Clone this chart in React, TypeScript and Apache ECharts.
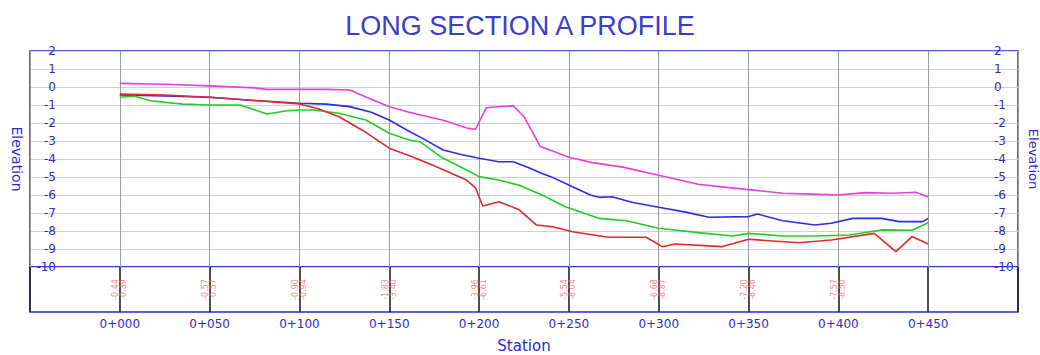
import React, { useEffect, useRef } from "react";
import * as echarts from "echarts";

const magenta: [number, number][] = [
  [0, 0.2], [25, 0.15], [50, 0.06], [75, -0.05], [82, -0.13], [100, -0.13], [115, -0.13], [128, -0.17],
  [137, -0.55], [150, -1.1], [161, -1.4], [180, -1.85], [194, -2.3], [198, -2.35], [204, -1.15],
  [212, -1.08], [219, -1.05], [225, -1.65], [234, -3.3], [242, -3.6], [250, -3.9], [263, -4.2],
  [280, -4.45], [300, -4.9], [322, -5.4], [335, -5.55], [350, -5.7], [369, -5.9], [385, -5.95],
  [400, -6.0], [415, -5.87], [430, -5.9], [443, -5.85], [450, -6.1],
];

const blue: [number, number][] = [
  [0, -0.44], [25, -0.5], [50, -0.57], [75, -0.75], [100, -0.9], [115, -0.95], [128, -1.09],
  [140, -1.4], [150, -1.83], [160, -2.4], [170, -2.94], [180, -3.5], [190, -3.75], [200, -3.96],
  [211, -4.15], [219, -4.15], [228, -4.5], [235, -4.8], [240, -4.98], [252, -5.54], [262, -6.0],
  [267, -6.13], [274, -6.1], [285, -6.4], [300, -6.68], [315, -6.95], [328, -7.24], [350, -7.2],
  [355, -7.06], [369, -7.43], [387, -7.67], [396, -7.57], [408, -7.3], [424, -7.3], [434, -7.48],
  [447, -7.48], [450, -7.3],
];

const green: [number, number][] = [
  [0, -0.57], [8, -0.5], [17, -0.76], [35, -0.95], [50, -1.0], [67, -1.0], [82, -1.5], [93, -1.32],
  [100, -1.28], [108, -1.28], [122, -1.46], [137, -1.83], [150, -2.57], [161, -2.94], [167, -3.04],
  [180, -3.96], [193, -4.61], [200, -4.98], [211, -5.17], [222, -5.45], [235, -6.0], [248, -6.65],
  [267, -7.3], [282, -7.43], [300, -7.85], [322, -8.09], [341, -8.28], [350, -8.13], [369, -8.28],
  [387, -8.28], [406, -8.22], [424, -7.94], [441, -7.96], [450, -7.54],
];

const red: [number, number][] = [
  [0, -0.39], [25, -0.45], [50, -0.57], [75, -0.75], [100, -0.94], [110, -1.2], [122, -1.65],
  [135, -2.4], [150, -3.4], [162, -3.85], [174, -4.33], [193, -5.17], [198, -5.6], [202, -6.61],
  [211, -6.37], [222, -6.8], [232, -7.67], [241, -7.76], [252, -8.04], [272, -8.35], [293, -8.35],
  [302, -8.87], [309, -8.72], [335, -8.87], [350, -8.46], [378, -8.65], [396, -8.5], [420, -8.13],
  [432, -9.15], [441, -8.31], [450, -8.72],
];

const bandStations = [0, 50, 100, 150, 200, 250, 300, 350, 400];
const bandLabels = [
  "-0.44\n-0.39", "-0.57\n-0.57", "-0.90\n-0.94", "-1.83\n-3.40", "-3.96\n-6.61",
  "-5.54\n-8.04", "-6.68\n-8.87", "-7.20\n-8.46", "-7.57\n-8.50",
];

const BLUE_TEXT = "#2a2ad0";

function fmtStation(v: number): string {
  if (v < 0 || v > 450) return "";
  return "0+" + String(v).padStart(3, "0");
}

export default function App() {
  const ref = useRef<HTMLDivElement>(null);
  useEffect(() => {
    if (!ref.current) return;
    const chart = echarts.init(ref.current, undefined, { renderer: "svg" });
    const lineSeries = (name: string, data: [number, number][], color: string) => ({
      name,
      type: "line",
      xAxisIndex: 0,
      yAxisIndex: 0,
      data,
      showSymbol: false,
      symbol: "none",
      lineStyle: { color, width: 1.6 },
      z: 5,
    });
    chart.setOption({
      animation: false,
      backgroundColor: "#ffffff",
      textStyle: { fontFamily: "Liberation Sans" },
      title: {
        text: "LONG SECTION A PROFILE",
        left: "center",
        top: 7,
        textStyle: { fontSize: 27, fontWeight: "normal", color: "#3c3cc8", fontFamily: "Liberation Sans" },
      },
      grid: [
        { left: 30, top: 51, width: 988, height: 216, show: true, borderColor: "#2a2ad0", borderWidth: 1.5, backgroundColor: "transparent", containLabel: false, outerBoundsMode: "none" },
        { left: 30, top: 267, width: 988, height: 45, show: true, borderColor: "#2a2ad0", borderWidth: 1.5, backgroundColor: "transparent", containLabel: false, outerBoundsMode: "none" },
      ],
      xAxis: [
        {
          type: "value", gridIndex: 0, min: -50, max: 500, interval: 50,
          axisLine: { show: false }, axisTick: { show: false }, axisLabel: { show: false },
          splitLine: { show: true, lineStyle: { color: "#9a9a9a", width: 1 } },
        },
        {
          type: "value", gridIndex: 1, min: -50, max: 500, interval: 50,
          axisLine: { show: false }, axisTick: { show: false },
          axisLabel: { formatter: fmtStation, color: BLUE_TEXT, fontSize: 12, margin: 6, fontFamily: "DejaVu Sans" },
          splitLine: { show: true, lineStyle: { color: "#222222", width: 1.6 } },
          name: "Station", nameLocation: "middle", nameGap: 26,
          nameTextStyle: { color: BLUE_TEXT, fontSize: 15, fontFamily: "DejaVu Sans" },
        },
      ],
      yAxis: [
        {
          type: "value", gridIndex: 0, min: -10, max: 2, interval: 1, position: "left",
          axisLine: { show: false }, axisTick: { show: false },
          axisLabel: { inside: true, align: "right", margin: 26, color: BLUE_TEXT, fontSize: 12, fontFamily: "DejaVu Sans" },
          splitLine: { show: true, lineStyle: { color: "#d0d0d0", width: 1 } },
          name: "Elevation", nameLocation: "middle", nameGap: 6, nameRotate: -90,
          nameTextStyle: { color: BLUE_TEXT, fontSize: 14, fontFamily: "DejaVu Sans" },
        },
        {
          type: "value", gridIndex: 0, min: -10, max: 2, interval: 1, position: "right",
          axisLine: { show: false }, axisTick: { show: false },
          axisLabel: { inside: true, align: "left", margin: 24, color: BLUE_TEXT, fontSize: 12, fontFamily: "DejaVu Sans" },
          splitLine: { show: false },
          name: "Elevation", nameLocation: "middle", nameGap: 2, nameRotate: -90,
          nameTextStyle: { color: BLUE_TEXT, fontSize: 13, fontFamily: "DejaVu Sans" },
        },
        {
          type: "value", gridIndex: 1, min: 0, max: 1, show: false,
        },
      ],
      series: [
        lineSeries("Magenta", magenta, "#e83ee0"),
        lineSeries("Blue", blue, "#2c2ce0"),
        lineSeries("Green", green, "#22cc22"),
        lineSeries("Red", red, "#e02a2a"),
        {
          type: "scatter",
          xAxisIndex: 1,
          yAxisIndex: 2,
          symbolSize: 0,
          data: bandStations.map((s, i) => ({ value: [s, 0.5], label: { formatter: bandLabels[i] } })),
          label: {
            show: true, position: "inside", rotate: 90, fontSize: 8, lineHeight: 8,
            color: "#f06464", fontFamily: "DejaVu Sans",
          },
          z: 6,
        },
      ],
    });
    return () => chart.dispose();
  }, []);
  return (
    <div
      ref={ref}
      style={{ position: "fixed", left: 0, top: 0, width: 1040, height: 355, background: "#fff" }}
    />
  );
}
